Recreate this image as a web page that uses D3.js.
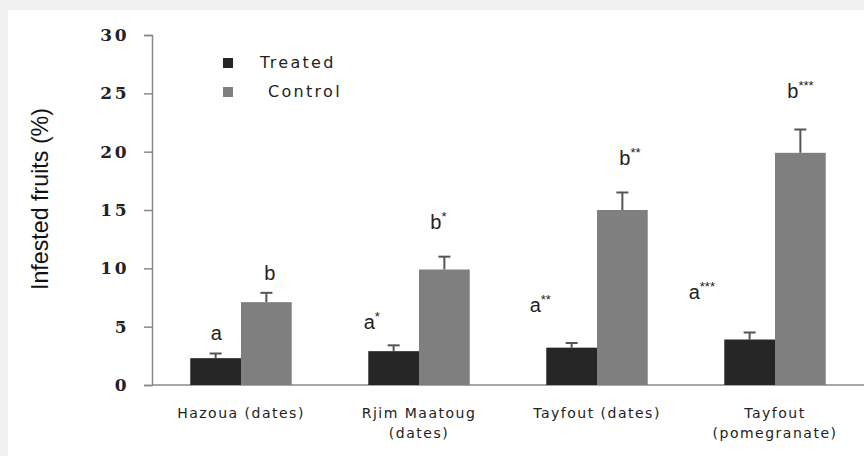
<!DOCTYPE html>
<html>
<head>
<meta charset="utf-8">
<script src="https://cdn.jsdelivr.net/npm/d3@7"></script>
<style>
  body { margin: 0; background: #f0f0f0; }
  svg { display: block; }
</style>
</head>
<body>
<div id="chart"></div>
<script>
// data
var sites = ['Hazoua (dates)', 'Rjim Maatoug (dates)', 'Tayfout (dates)', 'Tayfout (pomegranate)'];
var siteLines = [['Hazoua (dates)'], ['Rjim Maatoug', '(dates)'], ['Tayfout (dates)'], ['Tayfout', '(pomegranate)']];
var series = ['Treated', 'Control'];
var treated = [2.3, 2.9, 3.2, 3.9];
var control = [7.1, 9.9, 15.0, 19.9];
var treatedErr = [0.4, 0.5, 0.4, 0.6];
var controlErr = [0.8, 1.1, 1.5, 2.0];
var treatedLetters = [['a', ''], ['a', '*'], ['a', '**'], ['a', '***']];
var controlLetters = [['b', ''], ['b', '*'], ['b', '**'], ['b', '***']];
var yTicks = [0, 5, 10, 15, 20, 25, 30];

var width = 864, height = 456;
var colors = {Treated: '#262626', Control: '#7f7f7f'};

const svg = d3.select('#chart').append('svg')
	.attr('width', width)
	.attr('height', height);

// white panel
svg.append('rect')
	.attr('x', 8).attr('y', 10)
	.attr('width', width - 8).attr('height', height - 10)
	.attr('fill', '#fff');

var y = d3.scaleLinear().domain([0, 30]).range([385, 35]);
var x0 = d3.scaleBand().domain(sites).range([152, 864]).paddingInner(0.43).paddingOuter(0.215);
var x1 = d3.scaleBand().domain(series).range([0, x0.bandwidth()]);

// y axis
var yAxis = svg.append('g')
	.attr('transform', 'translate(152,0)')
	.call(d3.axisLeft(y).tickValues(yTicks).tickSize(8).tickPadding(15));
yAxis.select('.domain').attr('stroke', '#888').attr('stroke-width', 1.5);
yAxis.selectAll('.tick line').attr('stroke', '#888').attr('stroke-width', 1.5);
yAxis.selectAll('.tick text')
	.attr('font-family', 'DejaVu Serif')
	.attr('font-size', 17)
	.attr('font-weight', 'bold')
	.attr('letter-spacing', 2.5)
	.attr('fill', '#222');

// baseline
svg.append('line')
	.attr('x1', 152).attr('x2', 864)
	.attr('y1', y(0)).attr('y2', y(0))
	.attr('stroke', '#888').attr('stroke-width', 1.5);

// y label
svg.append('text')
	.attr('transform', 'translate(48,199) rotate(-90)')
	.attr('text-anchor', 'middle')
	.attr('font-family', 'Liberation Sans')
	.attr('font-size', 24)
	.attr('textLength', 182)
	.attr('lengthAdjust', 'spacingAndGlyphs')
	.attr('fill', '#111')
	.text('Infested fruits  (%)');

var rows = sites.map(function(s, i) {
	return {site: s, values: [
		{key: 'Treated', v: treated[i], e: treatedErr[i], lab: treatedLetters[i]},
		{key: 'Control', v: control[i], e: controlErr[i], lab: controlLetters[i]}
	]};
});

var groups = svg.selectAll('g.site')
	.data(rows)
	.enter()
	.append('g')
	.attr('class', 'site')
	.attr('transform', function(d) { return 'translate(' + x0(d.site) + ',0)'; });

// error bars (upper only)
var eb = groups.selectAll('g.err')
	.data(function(d) { return d.values; })
	.enter()
	.append('g')
	.attr('class', 'err')
	.attr('stroke', '#555')
	.attr('stroke-width', 2);
eb.append('line')
	.attr('x1', function(d) { return x1(d.key) + x1.bandwidth() / 2; })
	.attr('x2', function(d) { return x1(d.key) + x1.bandwidth() / 2; })
	.attr('y1', function(d) { return y(d.v); })
	.attr('y2', function(d) { return y(d.v + d.e); });
eb.append('line')
	.attr('x1', function(d) { return x1(d.key) + x1.bandwidth() / 2 - 6; })
	.attr('x2', function(d) { return x1(d.key) + x1.bandwidth() / 2 + 6; })
	.attr('y1', function(d) { return y(d.v + d.e); })
	.attr('y2', function(d) { return y(d.v + d.e); });

groups.selectAll('rect')
	.data(function(d) { return d.values; })
	.enter()
	.append('rect')
	.attr('x', function(d) { return x1(d.key); })
	.attr('y', function(d) { return y(d.v); })
	.attr('width', x1.bandwidth())
	.attr('height', function(d) { return y(0) - y(d.v); })
	.attr('fill', function(d) { return colors[d.key]; });

// significance letters: [dx from bar centre to text start, height above bar top]
var labOffsets = {Treated: [[-5, 18], [-30, 22], [-42, 36], [-61, 41]], Control: [[-2, 22], [-14, 41], [-3, 45], [-13, 55]]};
groups.each(function(d, i) {
	var g = d3.select(this);
	d.values.forEach(function(v) {
		var off = labOffsets[v.key][i];
		var t = g.append('text')
			.attr('x', x1(v.key) + x1.bandwidth() / 2 + off[0])
			.attr('y', y(v.v) - off[1])
			.attr('font-family', 'Liberation Sans')
			.attr('font-size', 20)
			.attr('fill', '#222');
		t.append('tspan').text(v.lab[0]);
		if (v.lab[1]) {
			t.append('tspan').attr('dy', -8).attr('font-size', 13).text(v.lab[1]);
		}
	});
});

// x labels
groups.each(function(d, i) {
	var t = d3.select(this).append('text')
		.attr('text-anchor', 'middle')
		.attr('font-family', 'DejaVu Sans')
		.attr('font-size', 14)
		.attr('letter-spacing', 1.5)
		.attr('fill', '#222');
	siteLines[i].forEach(function(line, j) {
		t.append('tspan')
			.attr('x', x0.bandwidth() / 2)
			.attr('y', 418 + j * 20)
			.text(line);
	});
});

// legend
var legend = svg.selectAll('g.legend')
	.data(series)
	.enter()
	.append('g')
	.attr('class', 'legend')
	.attr('transform', function(d, i) { return 'translate(223,' + (58 + i * 29) + ')'; });
legend.append('rect')
	.attr('width', 10).attr('height', 10)
	.attr('fill', function(d) { return colors[d]; });
legend.append('text')
	.attr('x', function(d, i) { return i === 0 ? 37 : 45; })
	.attr('y', 10)
	.attr('font-family', 'DejaVu Sans')
	.attr('font-size', 16)
	.attr('letter-spacing', 2.3)
	.attr('fill', '#222')
	.text(function(d) { return d; });
</script>
</body>
</html>
